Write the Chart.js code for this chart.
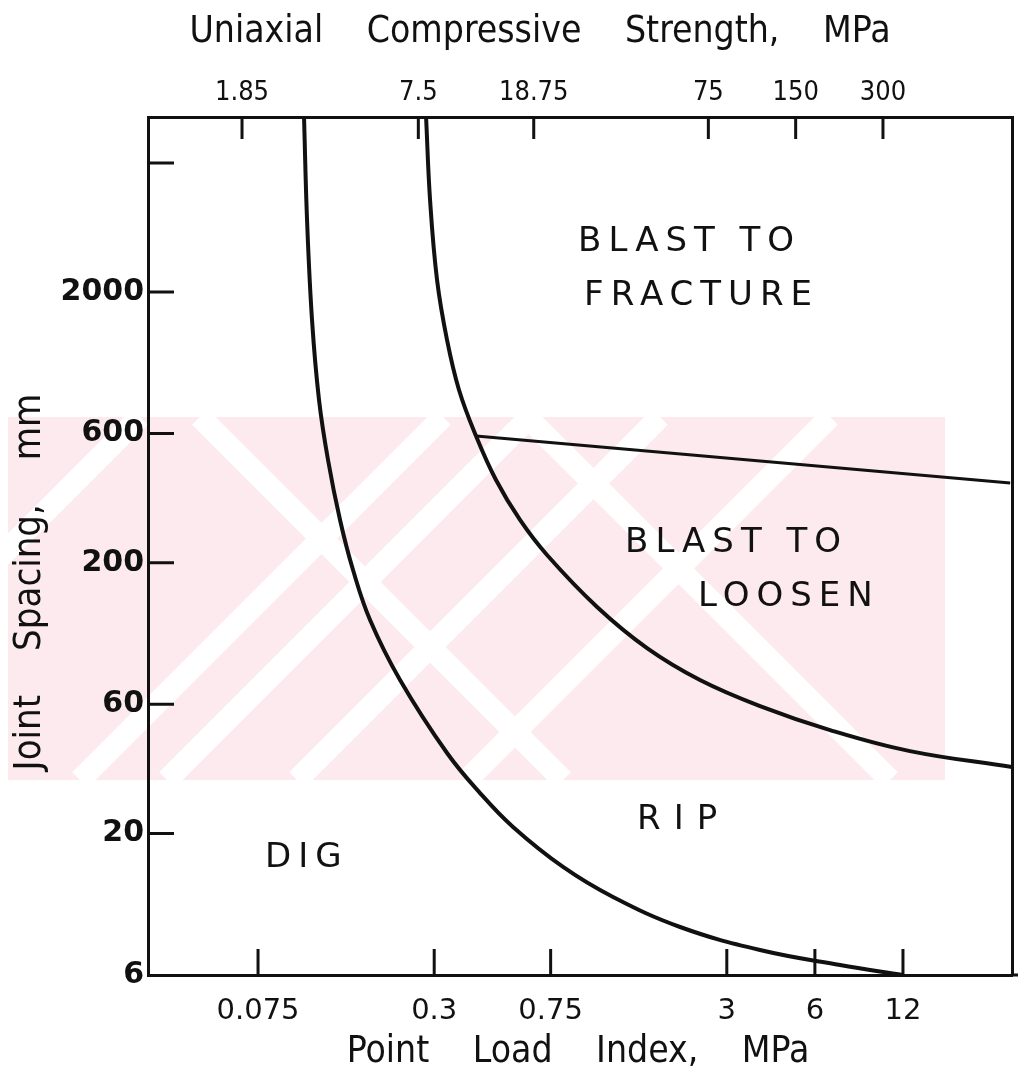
<!DOCTYPE html>
<html>
<head>
<meta charset="utf-8">
<script src="https://cdn.jsdelivr.net/npm/chart.js@4.4.1/dist/chart.umd.min.js"></script>
<style>
  html, body { margin: 0; padding: 0; background: #fff; }
  #wrap { width: 1018px; height: 1085px; position: relative; }
</style>
</head>
<body>
<div id="wrap"><canvas id="excavChart"></canvas></div>
<script>
// axis ticks: point load index (bottom), uniaxial compressive strength (top), joint spacing (left)
const pointLoadTicks = [0.075, 0.3, 0.75, 3, 6, 12];
const ucsTicks = [1.85, 7.5, 18.75, 75, 150, 300];
const spacingTicks = [6, 20, 60, 200, 600, 2000, 6000];

// dig / rip boundary
const digRipIs = [0.1077, 0.1103, 0.1147, 0.1212, 0.1301, 0.1430, 0.1584, 0.1811, 0.2293, 0.3319, 0.4303, 0.5578, 0.8269, 1.2254, 2.077, 3.896, 7.313, 12];
const digRipSpacing = [8866, 3691, 1577, 798.8, 479.3, 287.8, 188.0, 122.9, 73.8, 39.65, 28.2, 21.13, 15.04, 11.65, 9.025, 7.42, 6.53, 6];

// rip / blast boundary
const ripBlastIs = [0.2814, 0.2904, 0.3068, 0.3319, 0.3647, 0.4170, 0.4880, 0.5895, 0.7290, 1.0807, 1.6013, 2.429, 3.896, 6.760, 12.68, 28.3];
const ripBlastSpacing = [8866, 4376, 2216, 1330, 869.6, 587.8, 404.4, 287.8, 213.6, 137.3, 96.8, 73.8, 59.1, 48.2, 40.3, 35.2];

// blast to loosen / blast to fracture split
const loosenFractureIs = [0.4170, 27.9];
const loosenFractureSpacing = [587.8, 394.2];

// zone names, anchored at (point load index, joint spacing)
const zoneNames = ['BLAST TO', 'FRACTURE', 'BLAST TO', 'LOOSEN', 'RIP', 'DIG'];
const zoneIs = [0.931, 0.976, 1.347, 2.392, 1.481, 0.0792];
const zoneSpacing = [3061, 1934, 236.6, 149.5, 22.4, 16.2];

const ink = '#111';
const condensed = "'DejaVu Sans Condensed', 'DejaVu Sans', sans-serif";
const plain = "'DejaVu Sans', sans-serif";

const toPoints = (xs, ys) => xs.map((x, i) => ({ x: x, y: ys[i] }));

const curve = (label, xs, ys, width) => ({
  label: label,
  data: toPoints(xs, ys),
  showLine: true,
  borderColor: ink,
  borderWidth: width,
  pointRadius: 0,
  tension: 0.4,
  fill: false
});

// faint pink chevron band behind the plot
const backdrop = {
  id: 'backdrop',
  beforeDraw(chart) {
    const { ctx } = chart;
    const top = 417, bottom = 780, left = 8, right = 945;
    ctx.save();
    ctx.beginPath();
    ctx.rect(left, top, right - left, bottom - top);
    ctx.clip();
    ctx.fillStyle = 'rgb(252, 234, 238)';
    ctx.fillRect(left, top, right - left, bottom - top);
    ctx.strokeStyle = '#fff';
    ctx.lineWidth = 22;
    ctx.beginPath();
    [557, 860, 947, 1077, 1247].forEach(c => {
      ctx.moveTo(c - top, top);
      ctx.lineTo(c - bottom, bottom);
    });
    [-217, 110].forEach(c => {
      ctx.moveTo(c + top, top);
      ctx.lineTo(c + bottom, bottom);
    });
    ctx.stroke();
    ctx.restore();
  }
};

// inward tick marks, axis titles and zone names
const chartText = {
  id: 'chartText',
  afterDraw(chart) {
    const { ctx, chartArea: a, scales } = chart;
    ctx.save();
    ctx.strokeStyle = ink;
    ctx.lineWidth = 3;
    ctx.beginPath();
    pointLoadTicks.forEach(v => {
      const px = scales.x.getPixelForValue(v);
      ctx.moveTo(px, a.bottom);
      ctx.lineTo(px, a.bottom - 26);
    });
    ucsTicks.forEach(v => {
      const px = scales.x2.getPixelForValue(v);
      ctx.moveTo(px, a.top);
      ctx.lineTo(px, a.top + 22);
    });
    spacingTicks.slice(1).forEach(v => {
      const py = scales.y.getPixelForValue(v);
      ctx.moveTo(a.left, py);
      ctx.lineTo(a.left + 26, py);
    });
    // bottom axis runs on past the right frame edge
    ctx.moveTo(a.right, a.bottom);
    ctx.lineTo(chart.width, a.bottom);
    ctx.stroke();

    ctx.fillStyle = ink;
    ctx.textBaseline = 'middle';
    ctx.textAlign = 'center';
    ctx.font = '37px ' + condensed;
    if ('wordSpacing' in ctx) ctx.wordSpacing = '33px';
    ctx.fillText('Uniaxial Compressive Strength, MPa', 540, 32);
    ctx.fillText('Point Load Index, MPa', 578, 1052);
    ctx.font = '38px ' + condensed;
    ctx.save();
    ctx.translate(30, 582);
    ctx.rotate(-Math.PI / 2);
    ctx.fillText('Joint Spacing, mm', 0, 0);
    ctx.restore();
    if ('wordSpacing' in ctx) ctx.wordSpacing = '0px';

    ctx.textAlign = 'left';
    ctx.font = '34px ' + plain;
    zoneNames.forEach((name, i) => {
      if ('letterSpacing' in ctx) ctx.letterSpacing = (name === 'RIP' ? 13 : 7) + 'px';
      ctx.fillText(name, scales.x.getPixelForValue(zoneIs[i]), scales.y.getPixelForValue(zoneSpacing[i]));
    });
    ctx.restore();
  }
};

new Chart(document.getElementById('excavChart'), {
  type: 'scatter',
  data: {
    datasets: [
      curve('Dig / Rip', digRipIs, digRipSpacing, 4),
      curve('Rip / Blast', ripBlastIs, ripBlastSpacing, 4),
      curve('Loosen / Fracture', loosenFractureIs, loosenFractureSpacing, 3)
    ]
  },
  options: {
    responsive: true,
    maintainAspectRatio: false,
    animation: false,
    layout: { padding: 0 },
    plugins: { legend: { display: false }, tooltip: { enabled: false } },
    scales: {
      x: {
        type: 'logarithmic',
        position: 'bottom',
        min: 0.03155,
        max: 28.3,
        afterFit: s => { s.height = 110; },
        afterBuildTicks: s => { s.ticks = pointLoadTicks.map(v => ({ value: v })); },
        grid: { display: false, drawTicks: false },
        border: { display: true, color: ink, width: 3 },
        ticks: {
          color: ink,
          padding: 19,
          autoSkip: false,
          maxRotation: 0,
          font: { family: plain, size: 29 },
          callback: v => String(v)
        }
      },
      x2: {
        type: 'logarithmic',
        position: 'top',
        min: 0.877,
        max: 835.6,
        afterFit: s => { s.height = 117; },
        afterBuildTicks: s => { s.ticks = ucsTicks.map(v => ({ value: v })); },
        grid: { display: false, drawTicks: false },
        border: { display: true, color: ink, width: 3 },
        ticks: {
          color: ink,
          padding: 8,
          autoSkip: false,
          maxRotation: 0,
          font: { family: condensed, size: 27 },
          callback: v => String(v)
        }
      },
      y: {
        type: 'logarithmic',
        position: 'left',
        min: 6,
        max: 8866,
        afterFit: s => { s.width = 148; },
        afterBuildTicks: s => { s.ticks = spacingTicks.map(v => ({ value: v })); },
        grid: { display: false, drawTicks: false },
        border: { display: true, color: ink, width: 3 },
        ticks: {
          color: ink,
          padding: 4,
          autoSkip: false,
          font: { family: plain, size: 30, weight: 'bold' },
          callback: v => (v === 6000 ? '' : String(v))
        }
      },
      y2: {
        type: 'linear',
        position: 'right',
        afterFit: s => { s.width = 6; },
        grid: { display: false, drawTicks: false },
        border: { display: true, color: ink, width: 3 },
        ticks: { display: false }
      }
    }
  },
  plugins: [backdrop, chartText]
});
</script>
</body>
</html>
